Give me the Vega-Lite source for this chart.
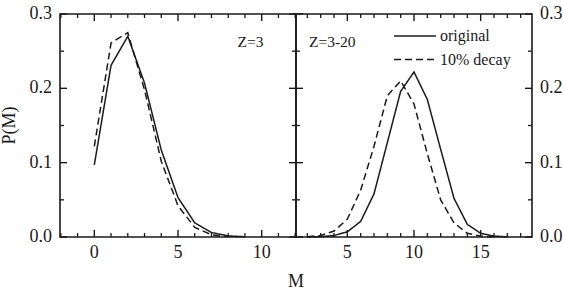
{
  "$schema": "https://vega.github.io/schema/vega-lite/v6.json",
  "padding": {"left": 0, "top": 4, "right": 0, "bottom": 0},
  "background": "white",
  "spacing": 0,
  "bounds": "flush",
  "config": {
    "view": {"stroke": "#1a1a1a", "strokeWidth": 1.6},
    "font": "Liberation Serif",
    "text": {"font": "Liberation Serif", "color": "#1a1a1a"},
    "tick": {"opacity": 1, "color": "#1a1a1a"},
    "legend": {"labelFont": "Liberation Serif"}
  },
  "resolve": {"scale": {"strokeDash": "independent"}, "legend": {"strokeDash": "independent"}},
  "datasets": {
    "d": [
      {"panel": "left", "series": "original", "M": 0, "P": 0.097},
      {"panel": "left", "series": "original", "M": 1, "P": 0.231},
      {"panel": "left", "series": "original", "M": 2, "P": 0.270},
      {"panel": "left", "series": "original", "M": 3, "P": 0.207},
      {"panel": "left", "series": "original", "M": 4, "P": 0.117},
      {"panel": "left", "series": "original", "M": 5, "P": 0.053},
      {"panel": "left", "series": "original", "M": 6, "P": 0.019},
      {"panel": "left", "series": "original", "M": 7, "P": 0.006},
      {"panel": "left", "series": "original", "M": 8, "P": 0.0015},
      {"panel": "left", "series": "original", "M": 9, "P": 0.0003},
      {"panel": "left", "series": "10% decay", "M": 0, "P": 0.122},
      {"panel": "left", "series": "10% decay", "M": 1, "P": 0.261},
      {"panel": "left", "series": "10% decay", "M": 2, "P": 0.275},
      {"panel": "left", "series": "10% decay", "M": 3, "P": 0.198},
      {"panel": "left", "series": "10% decay", "M": 4, "P": 0.102},
      {"panel": "left", "series": "10% decay", "M": 5, "P": 0.042},
      {"panel": "left", "series": "10% decay", "M": 6, "P": 0.013},
      {"panel": "left", "series": "10% decay", "M": 7, "P": 0.003},
      {"panel": "left", "series": "10% decay", "M": 8, "P": 0.0006},
      {"panel": "right", "series": "original", "M": 2, "P": 0.0001},
      {"panel": "right", "series": "original", "M": 3, "P": 0.0005},
      {"panel": "right", "series": "original", "M": 4, "P": 0.002},
      {"panel": "right", "series": "original", "M": 5, "P": 0.007},
      {"panel": "right", "series": "original", "M": 6, "P": 0.021},
      {"panel": "right", "series": "original", "M": 7, "P": 0.058},
      {"panel": "right", "series": "original", "M": 8, "P": 0.127},
      {"panel": "right", "series": "original", "M": 9, "P": 0.196},
      {"panel": "right", "series": "original", "M": 10, "P": 0.222},
      {"panel": "right", "series": "original", "M": 11, "P": 0.185},
      {"panel": "right", "series": "original", "M": 12, "P": 0.118},
      {"panel": "right", "series": "original", "M": 13, "P": 0.052},
      {"panel": "right", "series": "original", "M": 14, "P": 0.017},
      {"panel": "right", "series": "original", "M": 15, "P": 0.005},
      {"panel": "right", "series": "original", "M": 16, "P": 0.0012},
      {"panel": "right", "series": "original", "M": 17, "P": 0.0002},
      {"panel": "right", "series": "10% decay", "M": 2, "P": 0.0003},
      {"panel": "right", "series": "10% decay", "M": 3, "P": 0.002},
      {"panel": "right", "series": "10% decay", "M": 4, "P": 0.008},
      {"panel": "right", "series": "10% decay", "M": 5, "P": 0.024},
      {"panel": "right", "series": "10% decay", "M": 6, "P": 0.063},
      {"panel": "right", "series": "10% decay", "M": 7, "P": 0.122},
      {"panel": "right", "series": "10% decay", "M": 8, "P": 0.190},
      {"panel": "right", "series": "10% decay", "M": 9, "P": 0.210},
      {"panel": "right", "series": "10% decay", "M": 10, "P": 0.179},
      {"panel": "right", "series": "10% decay", "M": 11, "P": 0.112},
      {"panel": "right", "series": "10% decay", "M": 12, "P": 0.050},
      {"panel": "right", "series": "10% decay", "M": 13, "P": 0.019},
      {"panel": "right", "series": "10% decay", "M": 14, "P": 0.005},
      {"panel": "right", "series": "10% decay", "M": 15, "P": 0.0012},
      {"panel": "right", "series": "10% decay", "M": 16, "P": 0.0002}
    ],
    "notes": [
      {"panel": "left", "M": 8.55, "P": 0.256, "text": "Z=3"},
      {"panel": "right", "M": 2.12, "P": 0.256, "text": "Z=3-20"}
    ],
    "xt": [
      {"panel": "left", "kind": "major", "M": 0}, {"panel": "left", "kind": "major", "M": 5}, {"panel": "left", "kind": "major", "M": 10},
      {"panel": "left", "kind": "minor", "M": -2}, {"panel": "left", "kind": "minor", "M": -1}, {"panel": "left", "kind": "minor", "M": 1},
      {"panel": "left", "kind": "minor", "M": 2}, {"panel": "left", "kind": "minor", "M": 3}, {"panel": "left", "kind": "minor", "M": 4},
      {"panel": "left", "kind": "minor", "M": 6}, {"panel": "left", "kind": "minor", "M": 7}, {"panel": "left", "kind": "minor", "M": 8},
      {"panel": "left", "kind": "minor", "M": 9}, {"panel": "left", "kind": "minor", "M": 11}, {"panel": "left", "kind": "minor", "M": 12},
      {"panel": "right", "kind": "major", "M": 5}, {"panel": "right", "kind": "major", "M": 10}, {"panel": "right", "kind": "major", "M": 15},
      {"panel": "right", "kind": "minor", "M": 2}, {"panel": "right", "kind": "minor", "M": 3}, {"panel": "right", "kind": "minor", "M": 4},
      {"panel": "right", "kind": "minor", "M": 6}, {"panel": "right", "kind": "minor", "M": 7}, {"panel": "right", "kind": "minor", "M": 8},
      {"panel": "right", "kind": "minor", "M": 9}, {"panel": "right", "kind": "minor", "M": 11}, {"panel": "right", "kind": "minor", "M": 12},
      {"panel": "right", "kind": "minor", "M": 13}, {"panel": "right", "kind": "minor", "M": 14}, {"panel": "right", "kind": "minor", "M": 16},
      {"panel": "right", "kind": "minor", "M": 17}, {"panel": "right", "kind": "minor", "M": 18}
    ],
    "yt": [
      {"kind": "major", "P": 0}, {"kind": "major", "P": 0.1}, {"kind": "major", "P": 0.2}, {"kind": "major", "P": 0.3},
      {"kind": "minor", "P": 0.05}, {"kind": "minor", "P": 0.15}, {"kind": "minor", "P": 0.25}
    ]
  },
  "hconcat": [
    {
      "width": 236, "height": 223,
      "layer": [
        {
          "data": {"name": "d"},
          "transform": [{"filter": "datum.panel == 'left'"}],
          "mark": {"type": "line", "strokeWidth": 1.5, "color": "#1a1a1a"},
          "encoding": {
            "x": {"field": "M", "type": "quantitative", "scale": {"domain": [-2.05, 12.05], "nice": false, "zero": false}, "axis": null},
            "y": {"field": "P", "type": "quantitative", "scale": {"domain": [0, 0.3], "nice": false}, "axis": null},
            "strokeDash": {"field": "series", "type": "nominal", "scale": {"domain": ["original", "10% decay"], "range": [[1, 0], [7, 4]]}, "legend": null}
          }
        },
        {
          "data": {"name": "xt"},
          "transform": [{"filter": "datum.panel == 'left' && datum.kind == 'major'"}],
          "mark": {"type": "tick", "orient": "vertical", "size": 7, "thickness": 1.4, "yOffset": -3.5},
          "encoding": {
            "x": {"field": "M", "type": "quantitative", "scale": {"domain": [-2.05, 12.05], "nice": false, "zero": false}, "axis": null},
            "y": {"datum": 0, "type": "quantitative", "scale": {"domain": [0, 0.3], "nice": false}, "axis": null}
          }
        },
        {
          "data": {"name": "xt"},
          "transform": [{"filter": "datum.panel == 'left' && datum.kind == 'minor'"}],
          "mark": {"type": "tick", "orient": "vertical", "size": 4, "thickness": 1.3, "yOffset": -2},
          "encoding": {
            "x": {"field": "M", "type": "quantitative", "scale": {"domain": [-2.05, 12.05], "nice": false, "zero": false}, "axis": null},
            "y": {"datum": 0, "type": "quantitative", "scale": {"domain": [0, 0.3], "nice": false}, "axis": null}
          }
        },
        {
          "data": {"name": "xt"},
          "transform": [{"filter": "datum.panel == 'left' && datum.kind == 'major'"}],
          "mark": {"type": "tick", "orient": "vertical", "size": 7, "thickness": 1.4, "yOffset": 3.5},
          "encoding": {
            "x": {"field": "M", "type": "quantitative", "scale": {"domain": [-2.05, 12.05], "nice": false, "zero": false}, "axis": null},
            "y": {"datum": 0.3, "type": "quantitative", "scale": {"domain": [0, 0.3], "nice": false}, "axis": null}
          }
        },
        {
          "data": {"name": "xt"},
          "transform": [{"filter": "datum.panel == 'left' && datum.kind == 'minor'"}],
          "mark": {"type": "tick", "orient": "vertical", "size": 4, "thickness": 1.3, "yOffset": 2},
          "encoding": {
            "x": {"field": "M", "type": "quantitative", "scale": {"domain": [-2.05, 12.05], "nice": false, "zero": false}, "axis": null},
            "y": {"datum": 0.3, "type": "quantitative", "scale": {"domain": [0, 0.3], "nice": false}, "axis": null}
          }
        },
        {
          "data": {"name": "yt"},
          "transform": [{"filter": "datum.kind == 'major'"}],
          "mark": {"type": "tick", "orient": "horizontal", "size": 7, "thickness": 1.4, "xOffset": 3.5},
          "encoding": {
            "x": {"datum": -2.05, "type": "quantitative", "scale": {"domain": [-2.05, 12.05], "nice": false, "zero": false}, "axis": null},
            "y": {"field": "P", "type": "quantitative", "scale": {"domain": [0, 0.3], "nice": false}, "axis": null}
          }
        },
        {
          "data": {"name": "yt"},
          "transform": [{"filter": "datum.kind == 'minor'"}],
          "mark": {"type": "tick", "orient": "horizontal", "size": 4, "thickness": 1.3, "xOffset": 2},
          "encoding": {
            "x": {"datum": -2.05, "type": "quantitative", "scale": {"domain": [-2.05, 12.05], "nice": false, "zero": false}, "axis": null},
            "y": {"field": "P", "type": "quantitative", "scale": {"domain": [0, 0.3], "nice": false}, "axis": null}
          }
        },
        {
          "data": {"name": "yt"},
          "transform": [{"filter": "datum.kind == 'major'"}],
          "mark": {"type": "tick", "orient": "horizontal", "size": 7, "thickness": 1.4, "xOffset": -3.5},
          "encoding": {
            "x": {"datum": 12.05, "type": "quantitative", "scale": {"domain": [-2.05, 12.05], "nice": false, "zero": false}, "axis": null},
            "y": {"field": "P", "type": "quantitative", "scale": {"domain": [0, 0.3], "nice": false}, "axis": null}
          }
        },
        {
          "data": {"name": "yt"},
          "transform": [{"filter": "datum.kind == 'minor'"}],
          "mark": {"type": "tick", "orient": "horizontal", "size": 4, "thickness": 1.3, "xOffset": -2},
          "encoding": {
            "x": {"datum": 12.05, "type": "quantitative", "scale": {"domain": [-2.05, 12.05], "nice": false, "zero": false}, "axis": null},
            "y": {"field": "P", "type": "quantitative", "scale": {"domain": [0, 0.3], "nice": false}, "axis": null}
          }
        },
        {
          "data": {"name": "xt"},
          "transform": [{"filter": "datum.panel == 'left' && datum.kind == 'major'"}],
          "mark": {"type": "text", "align": "center", "baseline": "top", "fontSize": 18, "yOffset": 7},
          "encoding": {
            "x": {"field": "M", "type": "quantitative", "scale": {"domain": [-2.05, 12.05], "nice": false, "zero": false}, "axis": null},
            "y": {"datum": 0, "type": "quantitative", "scale": {"domain": [0, 0.3], "nice": false}, "axis": null},
            "text": {"field": "M", "type": "quantitative", "format": "d"}
          }
        },
        {
          "data": {"name": "yt"},
          "transform": [{"filter": "datum.kind == 'major'"}],
          "mark": {"type": "text", "align": "right", "baseline": "middle", "fontSize": 18, "xOffset": -8},
          "encoding": {
            "x": {"datum": -2.05, "type": "quantitative", "scale": {"domain": [-2.05, 12.05], "nice": false, "zero": false}, "axis": null},
            "y": {"field": "P", "type": "quantitative", "scale": {"domain": [0, 0.3], "nice": false}, "axis": null},
            "text": {"field": "P", "type": "quantitative", "format": ".1f"}
          }
        },
        {
          "data": {"name": "notes"},
          "transform": [{"filter": "datum.panel == 'left'"}],
          "mark": {"type": "text", "align": "center", "baseline": "bottom", "angle": 270, "fontSize": 18, "xOffset": -41},
          "encoding": {
            "x": {"datum": -2.05, "type": "quantitative", "scale": {"domain": [-2.05, 12.05], "nice": false, "zero": false}, "axis": null},
            "y": {"datum": 0.15, "type": "quantitative", "scale": {"domain": [0, 0.3], "nice": false}, "axis": null},
            "text": {"value": "P(M)"}
          }
        },
        {
          "data": {"name": "notes"},
          "transform": [{"filter": "datum.panel == 'left'"}],
          "mark": {"type": "text", "align": "center", "baseline": "alphabetic", "fontSize": 18, "yOffset": 50},
          "encoding": {
            "x": {"datum": 12.05, "type": "quantitative", "scale": {"domain": [-2.05, 12.05], "nice": false, "zero": false}, "axis": null},
            "y": {"datum": 0, "type": "quantitative", "scale": {"domain": [0, 0.3], "nice": false}, "axis": null},
            "text": {"value": "M"}
          }
        },
        {
          "data": {"name": "notes"},
          "transform": [{"filter": "datum.panel == 'left'"}],
          "mark": {"type": "text", "align": "left", "baseline": "alphabetic", "fontSize": 15.5},
          "encoding": {
            "x": {"field": "M", "type": "quantitative", "scale": {"domain": [-2.05, 12.05], "nice": false, "zero": false}, "axis": null},
            "y": {"field": "P", "type": "quantitative", "scale": {"domain": [0, 0.3], "nice": false}, "axis": null},
            "text": {"field": "text"}
          }
        }
      ]
    },
    {
      "width": 236, "height": 223,
      "layer": [
        {
          "data": {"name": "d"},
          "transform": [{"filter": "datum.panel == 'right'"}],
          "mark": {"type": "line", "strokeWidth": 1.5, "color": "#1a1a1a"},
          "encoding": {
            "x": {"field": "M", "type": "quantitative", "scale": {"domain": [1.15, 18.85], "nice": false, "zero": false}, "axis": null},
            "y": {"field": "P", "type": "quantitative", "scale": {"domain": [0, 0.3], "nice": false}, "axis": null},
            "strokeDash": {"field": "series", "type": "nominal", "scale": {"domain": ["original", "10% decay"], "range": [[1, 0], [7, 4]]},
                  "legend": {"orient": "none", "legendX": 111, "legendY": 14, "title": null, "padding": 0,
                             "symbolType": "M-4,0H4", "symbolSize": 110, "symbolStrokeWidth": 1.5, "symbolStrokeColor": "#1a1a1a",
                             "labelFont": "Liberation Serif", "labelFontSize": 16, "labelColor": "#1a1a1a", "labelOffset": 17, "rowPadding": 7.5}}
          }
        },
        {
          "data": {"name": "xt"},
          "transform": [{"filter": "datum.panel == 'right' && datum.kind == 'major'"}],
          "mark": {"type": "tick", "orient": "vertical", "size": 7, "thickness": 1.4, "yOffset": -3.5},
          "encoding": {
            "x": {"field": "M", "type": "quantitative", "scale": {"domain": [1.15, 18.85], "nice": false, "zero": false}, "axis": null},
            "y": {"datum": 0, "type": "quantitative", "scale": {"domain": [0, 0.3], "nice": false}, "axis": null}
          }
        },
        {
          "data": {"name": "xt"},
          "transform": [{"filter": "datum.panel == 'right' && datum.kind == 'minor'"}],
          "mark": {"type": "tick", "orient": "vertical", "size": 4, "thickness": 1.3, "yOffset": -2},
          "encoding": {
            "x": {"field": "M", "type": "quantitative", "scale": {"domain": [1.15, 18.85], "nice": false, "zero": false}, "axis": null},
            "y": {"datum": 0, "type": "quantitative", "scale": {"domain": [0, 0.3], "nice": false}, "axis": null}
          }
        },
        {
          "data": {"name": "xt"},
          "transform": [{"filter": "datum.panel == 'right' && datum.kind == 'major'"}],
          "mark": {"type": "tick", "orient": "vertical", "size": 7, "thickness": 1.4, "yOffset": 3.5},
          "encoding": {
            "x": {"field": "M", "type": "quantitative", "scale": {"domain": [1.15, 18.85], "nice": false, "zero": false}, "axis": null},
            "y": {"datum": 0.3, "type": "quantitative", "scale": {"domain": [0, 0.3], "nice": false}, "axis": null}
          }
        },
        {
          "data": {"name": "xt"},
          "transform": [{"filter": "datum.panel == 'right' && datum.kind == 'minor'"}],
          "mark": {"type": "tick", "orient": "vertical", "size": 4, "thickness": 1.3, "yOffset": 2},
          "encoding": {
            "x": {"field": "M", "type": "quantitative", "scale": {"domain": [1.15, 18.85], "nice": false, "zero": false}, "axis": null},
            "y": {"datum": 0.3, "type": "quantitative", "scale": {"domain": [0, 0.3], "nice": false}, "axis": null}
          }
        },
        {
          "data": {"name": "yt"},
          "transform": [{"filter": "datum.kind == 'major'"}],
          "mark": {"type": "tick", "orient": "horizontal", "size": 7, "thickness": 1.4, "xOffset": 3.5},
          "encoding": {
            "x": {"datum": 1.15, "type": "quantitative", "scale": {"domain": [1.15, 18.85], "nice": false, "zero": false}, "axis": null},
            "y": {"field": "P", "type": "quantitative", "scale": {"domain": [0, 0.3], "nice": false}, "axis": null}
          }
        },
        {
          "data": {"name": "yt"},
          "transform": [{"filter": "datum.kind == 'minor'"}],
          "mark": {"type": "tick", "orient": "horizontal", "size": 4, "thickness": 1.3, "xOffset": 2},
          "encoding": {
            "x": {"datum": 1.15, "type": "quantitative", "scale": {"domain": [1.15, 18.85], "nice": false, "zero": false}, "axis": null},
            "y": {"field": "P", "type": "quantitative", "scale": {"domain": [0, 0.3], "nice": false}, "axis": null}
          }
        },
        {
          "data": {"name": "yt"},
          "transform": [{"filter": "datum.kind == 'major'"}],
          "mark": {"type": "tick", "orient": "horizontal", "size": 7, "thickness": 1.4, "xOffset": -3.5},
          "encoding": {
            "x": {"datum": 18.85, "type": "quantitative", "scale": {"domain": [1.15, 18.85], "nice": false, "zero": false}, "axis": null},
            "y": {"field": "P", "type": "quantitative", "scale": {"domain": [0, 0.3], "nice": false}, "axis": null}
          }
        },
        {
          "data": {"name": "yt"},
          "transform": [{"filter": "datum.kind == 'minor'"}],
          "mark": {"type": "tick", "orient": "horizontal", "size": 4, "thickness": 1.3, "xOffset": -2},
          "encoding": {
            "x": {"datum": 18.85, "type": "quantitative", "scale": {"domain": [1.15, 18.85], "nice": false, "zero": false}, "axis": null},
            "y": {"field": "P", "type": "quantitative", "scale": {"domain": [0, 0.3], "nice": false}, "axis": null}
          }
        },
        {
          "data": {"name": "xt"},
          "transform": [{"filter": "datum.panel == 'right' && datum.kind == 'major'"}],
          "mark": {"type": "text", "align": "center", "baseline": "top", "fontSize": 18, "yOffset": 7},
          "encoding": {
            "x": {"field": "M", "type": "quantitative", "scale": {"domain": [1.15, 18.85], "nice": false, "zero": false}, "axis": null},
            "y": {"datum": 0, "type": "quantitative", "scale": {"domain": [0, 0.3], "nice": false}, "axis": null},
            "text": {"field": "M", "type": "quantitative", "format": "d"}
          }
        },
        {
          "data": {"name": "yt"},
          "transform": [{"filter": "datum.kind == 'major'"}],
          "mark": {"type": "text", "align": "left", "baseline": "middle", "fontSize": 18, "xOffset": 8},
          "encoding": {
            "x": {"datum": 18.85, "type": "quantitative", "scale": {"domain": [1.15, 18.85], "nice": false, "zero": false}, "axis": null},
            "y": {"field": "P", "type": "quantitative", "scale": {"domain": [0, 0.3], "nice": false}, "axis": null},
            "text": {"field": "P", "type": "quantitative", "format": ".1f"}
          }
        },
        {
          "data": {"name": "notes"},
          "transform": [{"filter": "datum.panel == 'right'"}],
          "mark": {"type": "text", "align": "left", "baseline": "alphabetic", "fontSize": 15.5},
          "encoding": {
            "x": {"field": "M", "type": "quantitative", "scale": {"domain": [1.15, 18.85], "nice": false, "zero": false}, "axis": null},
            "y": {"field": "P", "type": "quantitative", "scale": {"domain": [0, 0.3], "nice": false}, "axis": null},
            "text": {"field": "text"}
          }
        }
      ]
    }
  ]
}
